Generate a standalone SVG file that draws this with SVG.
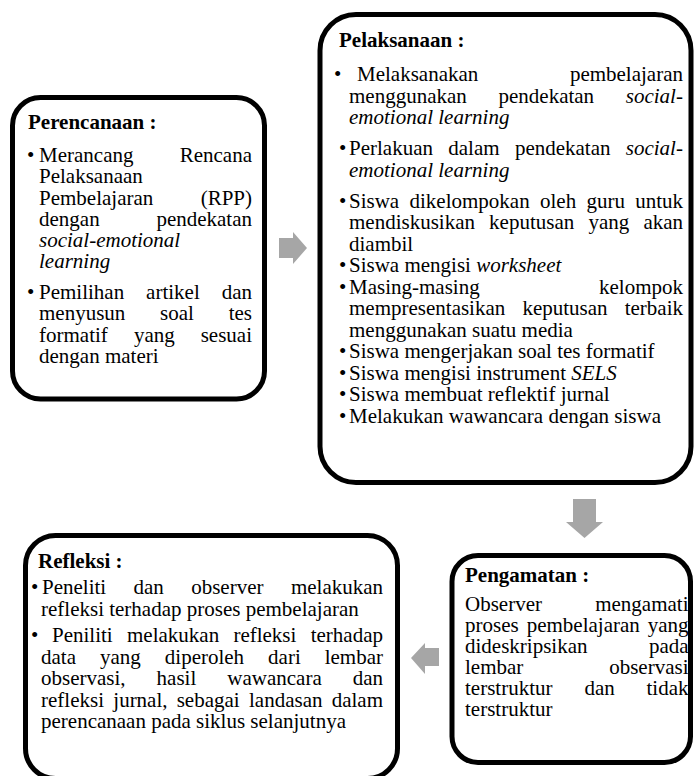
<svg xmlns="http://www.w3.org/2000/svg" width="694" height="776" viewBox="0 0 694 776">
<style>
.box{fill:#ffffff;stroke:#000000;stroke-width:5}
.t{font-family:"Liberation Serif","Times New Roman",serif;font-size:21px;fill:#000000}
.b{font-weight:bold}
.i{font-style:italic}
.arr{fill:#a6a6a6;stroke:none}
</style>
<rect width="694" height="776" fill="#ffffff"/>
<g id="connectors">
<polygon class="arr" points="279,238 293,238 293,232 307,248 293,264 293,258 279,258"/>
<polygon class="arr" points="573,499 596,499 596,522 603,522 584.5,538 566,522 573,522"/>
<polygon class="arr" points="439,648 425,648 425,643 411,658 425,674 425,666 439,666"/>
</g>
<g id="perencanaan">
<rect class="box" x="12.5" y="97.5" width="252" height="301.5" rx="28"/>
<text class="t b" x="28" y="129">Perencanaan :</text>
<text class="t">
<tspan x="27" y="162">•</tspan><tspan x="39">Merancang</tspan><tspan x="179.7">Rencana</tspan>
<tspan x="39" y="183">Pelaksanaan</tspan>
<tspan x="39" y="205">Pembelajaran</tspan><tspan x="200.7">(RPP)</tspan>
<tspan x="39" y="226">dengan</tspan><tspan x="156.4">pendekatan</tspan>
<tspan x="39" y="247" class="i">social-emotional</tspan>
<tspan x="39" y="268" class="i">learning</tspan>
<tspan x="27" y="299">•</tspan><tspan x="39">Pemilihan</tspan><tspan x="146.1">artikel</tspan><tspan x="221.7">dan</tspan>
<tspan x="39" y="320">menyusun</tspan><tspan x="160.1">soal</tspan><tspan x="228.7">tes</tspan>
<tspan x="39" y="342">formatif</tspan><tspan x="133.9">yang</tspan><tspan x="200.7">sesuai</tspan>
<tspan x="39" y="363">dengan materi</tspan>
</text>
</g>
<g id="pelaksanaan">
<rect class="box" x="320" y="14.5" width="371" height="468" rx="36"/>
<text class="t b" x="339" y="47">Pelaksanaan :</text>
<text class="t">
<tspan x="334" y="81">•</tspan><tspan x="357">Melaksanakan</tspan><tspan x="569.9">pembelajaran</tspan>
<tspan x="349" y="102.5">menggunakan</tspan><tspan x="498.5">pendekatan</tspan><tspan x="625.8" class="i">social-</tspan>
<tspan x="349" y="124" class="i">emotional learning</tspan>
<tspan x="339" y="155">•</tspan><tspan x="349">Perlakuan</tspan><tspan x="448.3">dalam</tspan><tspan x="514.9">pendekatan</tspan><tspan x="625.8" class="i">social-</tspan>
<tspan x="349" y="176.5" class="i">emotional learning</tspan>
<tspan x="339" y="207.5">•</tspan><tspan x="349">Siswa</tspan><tspan x="409.5">dikelompokan</tspan><tspan x="540">oleh</tspan><tspan x="586.5">guru</tspan><tspan x="635.2">untuk</tspan>
<tspan x="349" y="229">mendiskusikan</tspan><tspan x="489.1">keputusan</tspan><tspan x="588.4">yang</tspan><tspan x="643.4">akan</tspan>
<tspan x="349" y="250.5">diambil</tspan>
<tspan x="339" y="272">•</tspan><tspan x="349">Siswa mengisi </tspan><tspan class="i">worksheet</tspan>
<tspan x="339" y="293.5">•</tspan><tspan x="349">Masing-masing</tspan><tspan x="599">kelompok</tspan>
<tspan x="349" y="315">mempresentasikan</tspan><tspan x="522.4">keputusan</tspan><tspan x="624.7">terbaik</tspan>
<tspan x="349" y="336.5">menggunakan suatu media</tspan>
<tspan x="339" y="358">•</tspan><tspan x="349">Siswa mengerjakan soal tes formatif</tspan>
<tspan x="339" y="379.5">•</tspan><tspan x="349">Siswa mengisi instrument </tspan><tspan class="i">SELS</tspan>
<tspan x="339" y="401">•</tspan><tspan x="349">Siswa membuat reflektif jurnal</tspan>
<tspan x="339" y="422.5">•</tspan><tspan x="349">Melakukan wawancara dengan siswa</tspan>
</text>
</g>
<g id="pengamatan">
<rect class="box" x="452" y="555.5" width="238.5" height="207" rx="26"/>
<text class="t b" x="465" y="582">Pengamatan :</text>
<text class="t">
<tspan x="465" y="611">Observer</tspan><tspan x="595.2">mengamati</tspan>
<tspan x="465" y="632">proses</tspan><tspan x="526.7">pembelajaran</tspan><tspan x="647.7">yang</tspan>
<tspan x="465" y="653">dideskripsikan</tspan><tspan x="648.9">pada</tspan>
<tspan x="465" y="674">lembar</tspan><tspan x="609.2">observasi</tspan>
<tspan x="465" y="695">terstruktur</tspan><tspan x="584.4">dan</tspan><tspan x="646.5">tidak</tspan>
<tspan x="465" y="716">terstruktur</tspan>
</text>
</g>
<g id="refleksi">
<rect class="box" x="25.5" y="535.5" width="372" height="243" rx="30"/>
<text class="t b" x="38" y="568">Refleksi :</text>
<text class="t">
<tspan x="31" y="594">•</tspan><tspan x="42">Peneliti</tspan><tspan x="133.5">dan</tspan><tspan x="191.2">observer</tspan><tspan x="290.9">melakukan</tspan>
<tspan x="41" y="615.5">refleksi terhadap proses pembelajaran</tspan>
<tspan x="31" y="642">•</tspan><tspan x="52">Peniliti</tspan><tspan x="127">melakukan</tspan><tspan x="233.4">refleksi</tspan><tspan x="310.7">terhadap</tspan>
<tspan x="41" y="663.5">data</tspan><tspan x="100">yang</tspan><tspan x="164.8">diperoleh</tspan><tspan x="268.1">dari</tspan><tspan x="324.7">lembar</tspan>
<tspan x="41" y="685">observasi,</tspan><tspan x="156.6">hasil</tspan><tspan x="227.3">wawancara</tspan><tspan x="352.7">dan</tspan>
<tspan x="41" y="706.5">refleksi</tspan><tspan x="113.3">jurnal,</tspan><tspan x="176.7">sebagai</tspan><tspan x="249">landasan</tspan><tspan x="331.7">dalam</tspan>
<tspan x="41" y="728">perencanaan pada siklus selanjutnya</tspan>
</text>
</g>
</svg>
